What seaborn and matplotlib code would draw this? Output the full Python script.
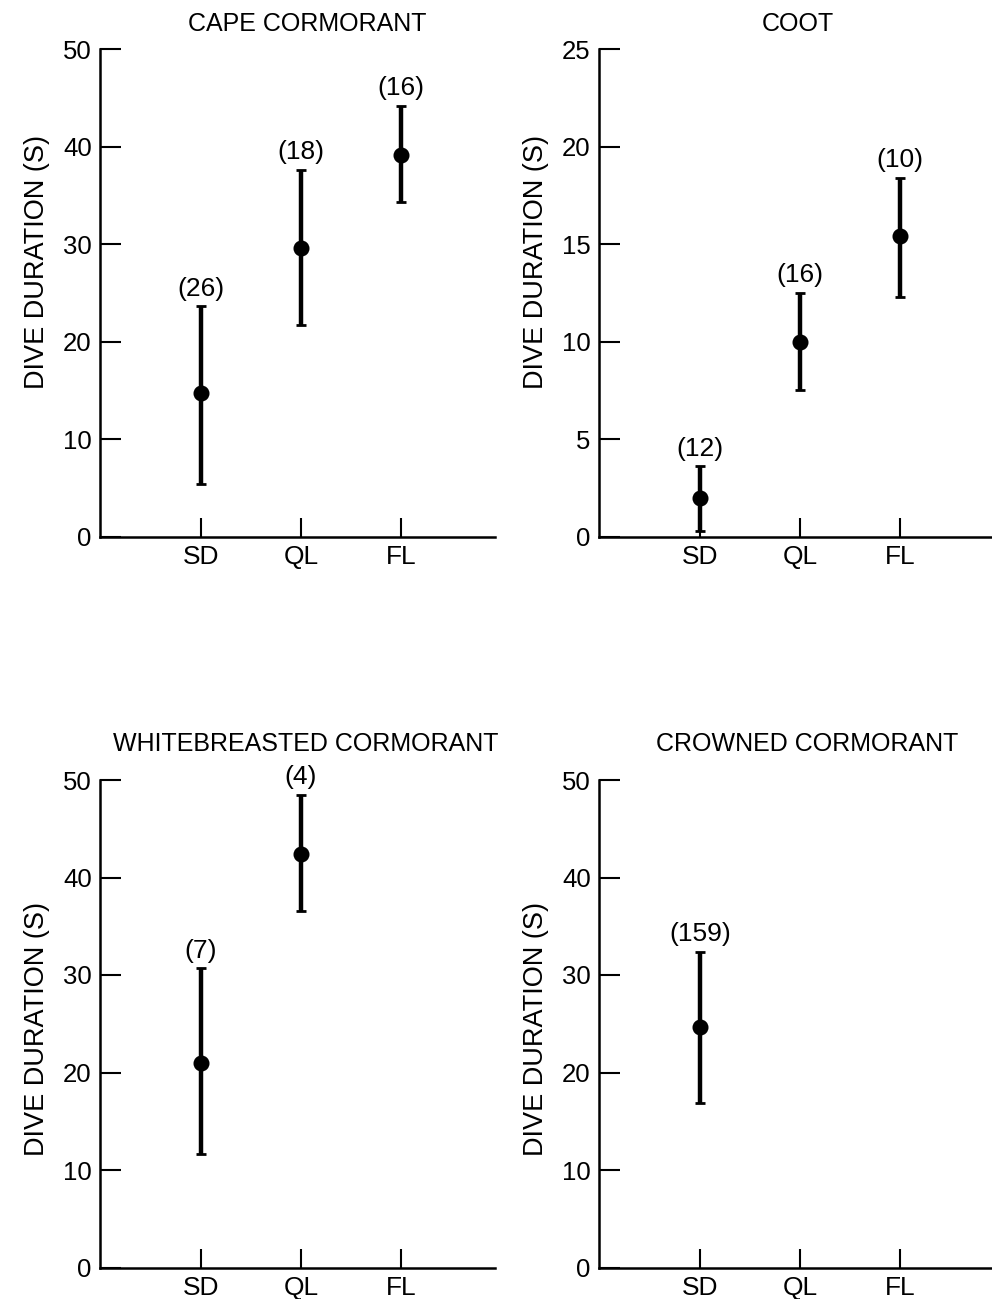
import matplotlib
matplotlib.use("Agg")
import numpy as np
import pandas as pd
import matplotlib.pyplot as plt
import seaborn as sns

# dive duration (s) by foraging habitat, mean with range bars, n in brackets
categories = ["SD", "QL", "FL"]

cape_cats = ["SD", "QL", "FL"]
cape_mean = [14.7, 29.6, 39.1]
cape_low = [5.4, 21.7, 34.3]
cape_high = [23.6, 37.6, 44.2]
cape_n = ["(26)", "(18)", "(16)"]

coot_cats = ["SD", "QL", "FL"]
coot_mean = [2.0, 10.0, 15.4]
coot_low = [0.3, 7.5, 12.3]
coot_high = [3.6, 12.5, 18.4]
coot_n = ["(12)", "(16)", "(10)"]

white_cats = ["SD", "QL"]
white_mean = [21.0, 42.4]
white_low = [11.6, 36.6]
white_high = [30.7, 48.5]
white_n = ["(7)", "(4)"]

crowned_cats = ["SD"]
crowned_mean = [24.7]
crowned_low = [16.9]
crowned_high = [32.4]
crowned_n = ["(159)"]

sns.set_style("ticks")
plt.rcParams['font.family'] = ['Liberation Sans', 'DejaVu Sans']
for key in ["text.color", "axes.labelcolor", "xtick.color", "ytick.color", "axes.edgecolor"]:
    plt.rcParams[key] = "black"

fig = plt.figure(figsize=(9.92, 12.99), dpi=100)
W, H = 992.0, 1299.0

panels = [
    ("CAPE CORMORANT", cape_cats, cape_mean, cape_low, cape_high, cape_n,
     (100, 49), 50, 10, 0.524, 13, 0.563),
    ("COOT", coot_cats, coot_mean, coot_low, coot_high, coot_n,
     (599, 49), 25, 5, 0.504, 13, 0.563),
    ("WHITEBREASTED CORMORANT", white_cats, white_mean, white_low, white_high, white_n,
     (100, 780), 50, 10, 0.52, 21, 0.49),
    ("CROWNED CORMORANT", crowned_cats, crowned_mean, crowned_low, crowned_high, crowned_n,
     (599, 780), 50, 10, 0.527, 21, 0.49),
]

aw, ah = 395, 487.5
for title, cats, mean, low, high, nlab, (left, top), ymax, ystep, tx, tpad, ly in panels:
    ax = fig.add_axes([left / W, 1 - (top + ah) / H, aw / W, ah / H])
    df = pd.DataFrame({"habitat": cats, "duration": mean})
    sns.pointplot(data=df, x="habitat", y="duration", order=categories,
                  color="black", markers="o", markersize=9.5, linestyle="none",
                  errorbar=None, ax=ax, zorder=4)
    xpos = [categories.index(c) for c in cats]
    m = np.array(mean)
    yerr = [m - np.array(low), np.array(high) - m]
    ax.errorbar(xpos, m, yerr=yerr, fmt="none", ecolor="black",
                elinewidth=3.2, capsize=3.5, capthick=2, zorder=3)
    for x, h, t in zip(xpos, high, nlab):
        ax.annotate(t, (x, h), xytext=(0, 4), textcoords="offset points",
                    ha="center", va="bottom", fontsize=19)

    ax.set_xlim(-1.01, 2.94)
    ax.set_ylim(0, ymax)
    ax.set_yticks(np.arange(0, ymax + 1, ystep))
    ax.set_xlabel("")
    ax.set_ylabel("DIVE DURATION (S)", fontsize=19.5)
    ax.yaxis.set_label_coords(-0.127, ly)
    ax.set_title(title, fontsize=18, x=tx, pad=tpad)

    ax.tick_params(axis="y", direction="in", length=15, width=1.5,
                   labelsize=18.5, pad=6)
    ax.tick_params(axis="x", direction="in", length=14, width=1.5,
                   labelsize=19, pad=6)
    for side in ["top", "right"]:
        ax.spines[side].set_visible(False)
    for side in ["left", "bottom"]:
        ax.spines[side].set_linewidth(1.8)

fig.savefig("out.png", dpi=100)
